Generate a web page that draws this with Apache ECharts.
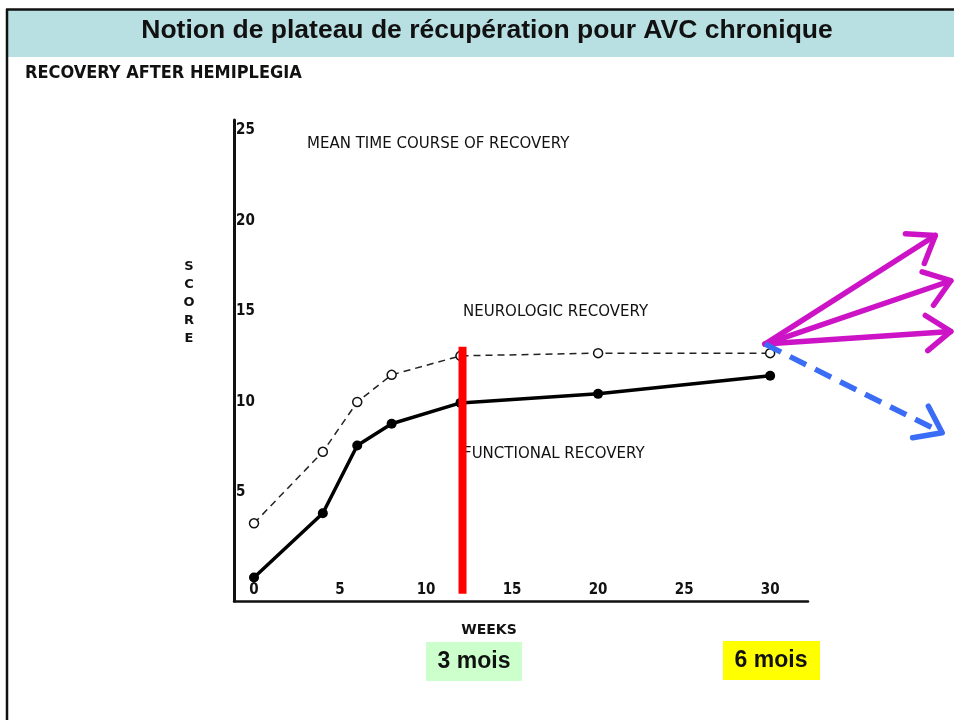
<!DOCTYPE html>
<html>
<head>
<meta charset="utf-8">
<script src="https://cdn.jsdelivr.net/npm/echarts@6/dist/echarts.min.js"></script>
<style>
html,body{margin:0;padding:0;background:#fff;}
#c{width:954px;height:720px;}
</style>
</head>
<body>
<div id="c"></div>
<script>
// ---- data ----
const weeks = [0, 4, 6, 8, 12, 20, 30];
const neurologic = [3.3, 7.25, 10.0, 11.5, 12.55, 12.7, 12.7];
const functional = [0.3, 3.85, 7.6, 8.8, 9.95, 10.45, 11.45];
const xTicks = [0, 5, 10, 15, 20, 25, 30];
const yTicks = [5, 10, 15, 20, 25];
const plateauWeek = 12.12;
const plateauRange = [-0.6, 13.05];
const arrowStart = [29.7, 13.2];
const improveTips = [[39.6, 19.2], [40.5, 16.7], [40.5, 13.9]];
const declineTip = [40.0, 8.3];

const chart = echarts.init(document.getElementById('c'), null, {renderer: 'canvas'});

const labelFont = "'Liberation Sans Narrow', 'DejaVu Sans Condensed', sans-serif";
const annFont = "'DejaVu Sans', 'Liberation Sans', sans-serif";
const arialFont = "'Liberation Sans', Arial, sans-serif";

function txt(x, y, text, size, family, weight, align, extra) {
  return Object.assign({type: 'text', x: x, y: y, z: 2, style: Object.assign({
    text: text, fontSize: size, fontFamily: family, fontWeight: weight,
    fill: '#111', align: align, verticalAlign: 'middle'}, extra || {})});
}

const option = {
  animation: false,
  backgroundColor: '#ffffff',
  grid: {left: 234, right: 146, top: 120, bottom: 119, containLabel: false},
  xAxis: {
    type: 'value', min: -1.163, max: 32.2,
    axisLine: {show: true, onZero: false, lineStyle: {color: '#111', width: 2.5}},
    axisTick: {show: false},
    splitLine: {show: false},
    axisLabel: {inside: true, customValues: xTicks, margin: 3, color: '#111',
      fontFamily: labelFont, fontWeight: 'bold', fontSize: 15}
  },
  yAxis: {
    type: 'value', min: -0.994, max: 25.58,
    axisLine: {show: true, onZero: false, lineStyle: {color: '#111', width: 3}},
    axisTick: {show: false},
    splitLine: {show: false},
    axisLabel: {inside: true, customValues: yTicks, margin: 2, color: '#111',
      fontFamily: labelFont, fontWeight: 'bold', fontSize: 15}
  },
  series: [
    {
      name: 'Neurologic recovery', type: 'line',
      data: weeks.map((w, i) => [w, neurologic[i]]),
      symbol: 'circle', symbolSize: 9,
      itemStyle: {color: '#fff', borderColor: '#111', borderWidth: 1.5},
      lineStyle: {color: '#222', width: 1.5, type: [7, 5]},
      z: 3
    },
    {
      name: 'Functional recovery', type: 'line',
      data: weeks.map((w, i) => [w, functional[i]]),
      symbol: 'circle', symbolSize: 10,
      itemStyle: {color: '#000'},
      lineStyle: {color: '#000', width: 3.5},
      z: 4
    },
    {
      name: 'plateau', type: 'line',
      data: [[plateauWeek, plateauRange[0]], [plateauWeek, plateauRange[1]]],
      symbol: 'none',
      lineStyle: {color: '#ff0000', width: 8, cap: 'butt'},
      z: 6
    }
  ],
  graphic: [
    {type: 'rect', shape: {x: 8, y: 10, width: 946, height: 47}, style: {fill: '#b8dfe2'}, z: 0},
    {type: 'line', shape: {x1: 6, y1: 9.5, x2: 954, y2: 9.5}, style: {stroke: '#111', lineWidth: 2.5}, z: 1},
    {type: 'line', shape: {x1: 7, y1: 9, x2: 7, y2: 720}, style: {stroke: '#111', lineWidth: 2.5}, z: 1},
    txt(487, 31, 'Notion de plateau de récupération pour AVC chronique', 26.5, arialFont, 'bold', 'center'),
    txt(25, 73, 'RECOVERY AFTER HEMIPLEGIA', 18, "'DejaVu Sans Condensed', sans-serif", 'bold', 'left'),
    txt(307, 144, 'MEAN TIME COURSE OF RECOVERY', 15, annFont, 'normal', 'left'),
    txt(463, 312, 'NEUROLOGIC RECOVERY', 15, annFont, 'normal', 'left'),
    txt(463, 454, 'FUNCTIONAL RECOVERY', 15, annFont, 'normal', 'left'),
    txt(489, 630, 'WEEKS', 14, annFont, 'bold', 'center'),
    txt(189, 303, 'S\nC\nO\nR\nE', 13, annFont, 'bold', 'center', {lineHeight: 18}),
    {type: 'rect', shape: {x: 426, y: 642, width: 96, height: 39}, style: {fill: '#ccffcc'}, z: 1},
    txt(474, 662, '3 mois', 23, arialFont, 'bold', 'center'),
    {type: 'rect', shape: {x: 723, y: 641, width: 97, height: 39}, style: {fill: '#ffff00'}, z: 1},
    txt(771, 661, '6 mois', 23, arialFont, 'bold', 'center')
  ]
};
chart.setOption(option);

// arrows computed through the chart's own coordinate system
function arrowGraphics(startData, tipData, color, dashed) {
  const s = chart.convertToPixel({gridIndex: 0}, startData);
  const t = chart.convertToPixel({gridIndex: 0}, tipData);
  const dx = t[0] - s[0], dy = t[1] - s[1];
  const len = Math.sqrt(dx * dx + dy * dy);
  const ux = dx / len, uy = dy / len;
  const L = 30, a = 36 * Math.PI / 180;
  const w1 = [t[0] - L * (ux * Math.cos(a) - uy * Math.sin(a)), t[1] - L * (uy * Math.cos(a) + ux * Math.sin(a))];
  const w2 = [t[0] - L * (ux * Math.cos(a) + uy * Math.sin(a)), t[1] - L * (uy * Math.cos(a) - ux * Math.sin(a))];
  const shaftEnd = dashed ? [t[0] - ux * 6, t[1] - uy * 6] : t;
  return [
    {type: 'line', shape: {x1: s[0], y1: s[1], x2: shaftEnd[0], y2: shaftEnd[1]},
      style: {stroke: color, lineWidth: 5.5, lineCap: dashed ? 'butt' : 'round', lineDash: dashed ? [18, 10] : null}, z: 10},
    {type: 'polyline', shape: {points: [w1, t, w2]},
      style: {stroke: color, lineWidth: 5.5, lineCap: 'round', lineJoin: 'round', fill: null}, z: 10}
  ];
}
let extra = [];
improveTips.forEach(tp => { extra = extra.concat(arrowGraphics(arrowStart, tp, '#cc14c6', false)); });
extra = extra.concat(arrowGraphics(arrowStart, declineTip, '#3a6cf5', true));
chart.setOption({graphic: option.graphic.concat(extra)});
</script>
</body>
</html>
